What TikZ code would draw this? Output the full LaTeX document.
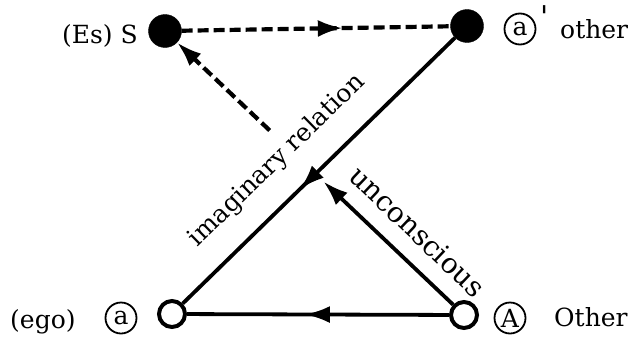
\documentclass[tikz,border=0pt]{standalone}
\usepackage{fontspec}
\setmainfont{DejaVu Serif}
\usetikzlibrary{arrows.meta,decorations.markings,calc}
\begin{document}
\begin{tikzpicture}[x=1pt,y=-1pt,
  font=\fontsize{25}{29}\selectfont,
  dot/.style={circle,fill=black,draw=black,minimum size=33pt,inner sep=0pt},
  hole/.style={circle,draw=black,line width=4pt,fill=white,minimum size=26pt,inner sep=0pt},
  ring/.style={circle,draw=black,line width=1.8pt,minimum size=31pt,inner sep=0pt,font=\fontsize{25}{29}\selectfont},
  lab/.style={inner sep=0pt},
  conn/.style={line width=3.8pt},
  dconn/.style={line width=4.2pt,dash pattern=on 11pt off 5pt},
  tipend/.style={-{Latex[length=25pt,width=17pt]}},
  midarrow/.style={postaction={decorate},decoration={markings,
     mark=at position #1 with {\arrow{Latex[length=25pt,width=17pt]}}}},
]
\useasboundingbox (0,0) rectangle (636,340);

% vertices
\node[dot] (S) at (165,31) {};
\node[dot] (ap) at (467,26) {};
\node[hole] (a) at (172,314) {};
\node[hole] (A) at (464,315) {};

% connectors
\draw[dconn,midarrow=0.6] (S) -- (ap);
\draw[conn,midarrow=0.57] (ap) -- (a);
\draw[conn,midarrow=0.55] (A) -- (a);
\coordinate (m1) at ($(A)!0.47!(S)$);
\coordinate (m2) at ($(A)!0.65!(S)$);
\draw[conn,tipend] (A) -- (m1);
\draw[dconn,tipend] (m2) -- (S);

% edge labels
\path (a) -- (ap) node[lab,pos=0.44,sloped,above=24pt] (imag) {imaginary relation};
\path (S) -- (A) node[lab,pos=0.80,sloped,above=18pt,font=\fontsize{28}{32}\selectfont] (unc) {unconscious};

% vertex labels
\node[lab,anchor=base east] (Slab) at (138,43) {(Es) S};
\node[ring] (apc) at (520,29) {a};
\node[lab,anchor=base west] (apprime) at (540,27) {\fontsize{30}{30}\selectfont\textquotesingle};
\node[lab,anchor=base west] (aplab) at (560,38) {other};
\node[lab,anchor=base west] (egolab) at (10,328) {(ego)};
\node[ring] (egoc) at (121,318) {a};
\node[ring] (Ac) at (510,318) {A};
\node[lab,anchor=base west] (Alab) at (554,326) {Other};
\end{tikzpicture}
\end{document}
